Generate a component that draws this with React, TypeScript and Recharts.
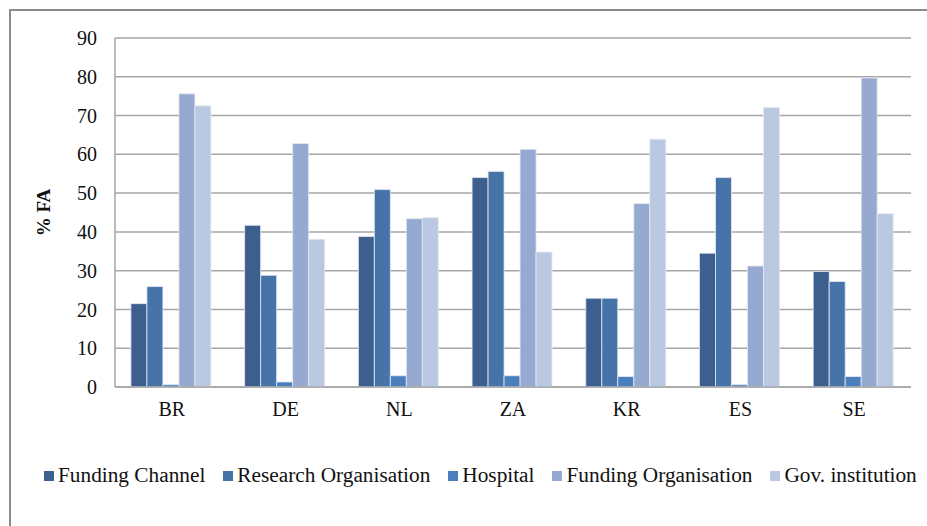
import React from "react"
import { Bar, BarChart, CartesianGrid, XAxis, YAxis } from "recharts"

const countries = ["BR", "DE", "NL", "ZA", "KR", "ES", "SE"]

const fundingChannel = [21.5, 41.7, 38.8, 54.0, 22.9, 34.5, 29.8]
const researchOrg = [25.9, 28.8, 50.9, 55.6, 22.9, 54.0, 27.2]
const hospital = [0.6, 1.3, 2.9, 2.9, 2.7, 0.6, 2.7]
const fundingOrg = [75.6, 62.8, 43.4, 61.3, 47.3, 31.2, 79.7]
const govInstitution = [72.5, 38.1, 43.7, 34.8, 63.9, 72.1, 44.7]

const yTicks = [0, 10, 20, 30, 40, 50, 60, 70, 80, 90]

const series = [
    { key: "fc", name: "Funding Channel", values: fundingChannel, color: "#3C5F8E" },
    { key: "ro", name: "Research Organisation", values: researchOrg, color: "#4674A9" },
    { key: "hosp", name: "Hospital", values: hospital, color: "#4A7FBE" },
    { key: "fo", name: "Funding Organisation", values: fundingOrg, color: "#96AAD1" },
    { key: "gov", name: "Gov. institution", values: govInstitution, color: "#BBC8E1" },
]

const data = countries.map((c, i) => {
    const row: Record<string, string | number> = { country: c }
    series.forEach((s) => {
        row[s.key] = s.values[i]
    })
    return row
})

const font = "'Liberation Serif', 'Times New Roman', serif"

// legend is plain html under the chart, recharts' own legend eats plot height
function ChartLegend() {
    return (
        <div
            style={{
                position: "absolute",
                top: 463,
                left: 44,
                display: "flex",
                alignItems: "center",
                fontFamily: font,
                fontSize: 21.3,
                color: "#111",
            }}
        >
            {series.map((s) => (
                <div key={s.key} style={{ display: "flex", alignItems: "center", marginRight: 18 }}>
                    <span style={{ width: 10, height: 10, background: s.color, display: "inline-block", marginRight: 4 }} />
                    <span style={{ whiteSpace: "nowrap" }}>{s.name}</span>
                </div>
            ))}
        </div>
    )
}

export default function App() {
    return (
        <div style={{ position: "fixed", left: 0, top: 0, width: 927, height: 526, background: "#fff", overflow: "hidden" }}>
            <div
                style={{
                    position: "absolute",
                    left: 9,
                    top: 9,
                    width: 940,
                    height: 540,
                    border: "2px solid #8c8c8c",
                }}
            />
            <div style={{ position: "absolute", left: 0, top: 0 }}>
                <BarChart
                    width={927}
                    height={526}
                    data={data}
                    margin={{ top: 38, right: 16, left: 0, bottom: 99 }}
                    barCategoryGap="14%"
                    barGap={0}
                >
                    <CartesianGrid vertical={false} stroke="#a6a6a6" strokeWidth={1.5} />
                    <XAxis
                        dataKey="country"
                        height={40}
                        stroke="#a6a6a6"
                        strokeWidth={1.5}
                        tickLine={false}
                        tickSize={0}
                        tickMargin={15}
                        tick={{ fill: "#111", fontSize: 20, fontFamily: font }}
                    />
                    <YAxis
                        width={115}
                        domain={[0, 90]}
                        ticks={yTicks}
                        interval={0}
                        stroke="#a6a6a6"
                        strokeWidth={1.5}
                        tickLine={false}
                        tickSize={0}
                        tickMargin={18}
                        tick={{ fill: "#111", fontSize: 20, fontFamily: font }}
                        label={{
                            value: "% FA",
                            angle: -90,
                            position: "insideLeft",
                            offset: 43,
                            style: { fontFamily: font, fontSize: 19, fontWeight: "bold", fill: "#111", textAnchor: "middle" },
                        }}
                    />
                    {series.map((s) => (
                        <Bar
                            key={s.key}
                            dataKey={s.key}
                            name={s.name}
                            fill={s.color}
                            stroke="#e4eaf4"
                            strokeWidth={0.8}
                            isAnimationActive={false}
                        />
                    ))}
                </BarChart>
            </div>
            <ChartLegend />
        </div>
    )
}
